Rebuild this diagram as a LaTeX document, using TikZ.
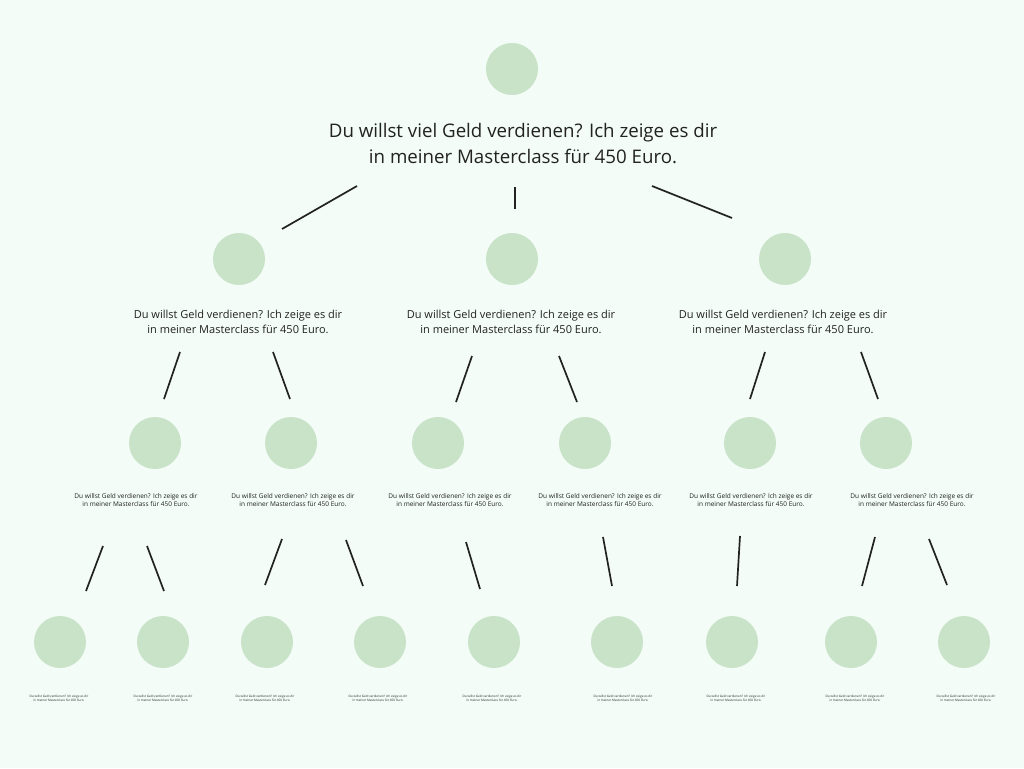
\documentclass[tikz,border=0pt]{standalone}
\usepackage{fontspec}
\setmainfont{Open Sans}
\usepackage{xcolor}
\usepackage{tikz}

\definecolor{paper}{RGB}{243,252,247}
\definecolor{leaf}{RGB}{200,227,200}
\definecolor{ink}{RGB}{34,34,34}

\newcommand{\pitchbig}{Du willst viel Geld verdienen? Ich zeige es dir\\in meiner Masterclass für 450 Euro.}
\newcommand{\pitch}{Du willst Geld verdienen? Ich zeige es dir\\in meiner Masterclass für 450 Euro.}

\begin{document}
\begin{tikzpicture}[x=1pt, y=-1pt,
     dot/.style={circle, fill=leaf, inner sep=0pt, minimum size=52pt},
     txt/.style={align=center, text=ink, inner sep=0pt},
     link/.style={draw=ink, line width=1.7pt}]
     \fill[paper] (0,0) rectangle (1024,768);
     \useasboundingbox (0,0) rectangle (1024,768);

     % top
     \node[dot] (R) at (512,69) {};
     \node[txt, font=\fontsize{18.7}{26}\selectfont] (Rt) at (523,144) {\pitchbig};

     % first row
     \node[dot] (A) at (239,259) {};
     \node[dot] (B) at (512,259) {};
     \node[dot] (C) at (785,259) {};
     \node[txt, font=\fontsize{11}{14.5}\selectfont] (At) at (238,322) {\pitch};
     \node[txt, font=\fontsize{11}{14.5}\selectfont] (Bt) at (511,322) {\pitch};
     \node[txt, font=\fontsize{11}{14.5}\selectfont] (Ct) at (783,322) {\pitch};

     % second row
     \node[dot] (A1) at (155,443) {};
     \node[dot] (A2) at (291,443) {};
     \node[dot] (B1) at (438,443) {};
     \node[dot] (B2) at (585,443) {};
     \node[dot] (C1) at (750,443) {};
     \node[dot] (C2) at (886,443) {};
     \node[txt, font=\fontsize{6.5}{8.5}\selectfont] (A1t) at (136,500) {\pitch};
     \node[txt, font=\fontsize{6.5}{8.5}\selectfont] (A2t) at (293,500) {\pitch};
     \node[txt, font=\fontsize{6.5}{8.5}\selectfont] (B1t) at (450,500) {\pitch};
     \node[txt, font=\fontsize{6.5}{8.5}\selectfont] (B2t) at (600,500) {\pitch};
     \node[txt, font=\fontsize{6.5}{8.5}\selectfont] (C1t) at (751,500) {\pitch};
     \node[txt, font=\fontsize{6.5}{8.5}\selectfont] (C2t) at (912,500) {\pitch};

     % third row
     \node[dot] (D1) at (60,642) {};
     \node[dot] (D2) at (163,642) {};
     \node[dot] (D3) at (267,642) {};
     \node[dot] (D4) at (380,642) {};
     \node[dot] (D5) at (494,642) {};
     \node[dot] (D6) at (617,642) {};
     \node[dot] (D7) at (732,642) {};
     \node[dot] (D8) at (851,642) {};
     \node[dot] (D9) at (964,642) {};
     \node[txt, font=\fontsize{3.1}{4.2}\selectfont] (D1t) at (59,698) {\pitch};
     \node[txt, font=\fontsize{3.1}{4.2}\selectfont] (D2t) at (163,698) {\pitch};
     \node[txt, font=\fontsize{3.1}{4.2}\selectfont] (D3t) at (265,698) {\pitch};
     \node[txt, font=\fontsize{3.1}{4.2}\selectfont] (D4t) at (378,698) {\pitch};
     \node[txt, font=\fontsize{3.1}{4.2}\selectfont] (D5t) at (492,698) {\pitch};
     \node[txt, font=\fontsize{3.1}{4.2}\selectfont] (D6t) at (623,698) {\pitch};
     \node[txt, font=\fontsize{3.1}{4.2}\selectfont] (D7t) at (736,698) {\pitch};
     \node[txt, font=\fontsize{3.1}{4.2}\selectfont] (D8t) at (855,698) {\pitch};
     \node[txt, font=\fontsize{3.1}{4.2}\selectfont] (D9t) at (966,698) {\pitch};

     % line ends
     \coordinate (RA0) at (357,186);  \coordinate (RA1) at (282,229);
     \coordinate (RB0) at (515,187);  \coordinate (RB1) at (515,209);
     \coordinate (RC0) at (652,186);  \coordinate (RC1) at (732,218);

     \coordinate (AA10) at (180,352); \coordinate (AA11) at (164,399);
     \coordinate (AA20) at (273,352); \coordinate (AA21) at (290,399);
     \coordinate (BB10) at (472,356); \coordinate (BB11) at (456,402);
     \coordinate (BB20) at (559,356); \coordinate (BB21) at (577,402);
     \coordinate (CC10) at (765,352); \coordinate (CC11) at (750,399);
     \coordinate (CC20) at (861,352); \coordinate (CC21) at (878,399);

     \coordinate (E10) at (103,546);  \coordinate (E11) at (86,591);
     \coordinate (E20) at (147,546);  \coordinate (E21) at (164,591);
     \coordinate (E30) at (282,539);  \coordinate (E31) at (265,585);
     \coordinate (E40) at (346,540);  \coordinate (E41) at (363,586);
     \coordinate (E50) at (466,542);  \coordinate (E51) at (480,589);
     \coordinate (E60) at (603,537);  \coordinate (E61) at (612,586);
     \coordinate (E70) at (740,536);  \coordinate (E71) at (737,586);
     \coordinate (E80) at (875,537);  \coordinate (E81) at (862,586);
     \coordinate (E90) at (929,539);  \coordinate (E91) at (947,585);

     \draw[link] (RA0) -- (RA1);
     \draw[link] (RB0) -- (RB1);
     \draw[link] (RC0) -- (RC1);
     \draw[link] (AA10) -- (AA11);
     \draw[link] (AA20) -- (AA21);
     \draw[link] (BB10) -- (BB11);
     \draw[link] (BB20) -- (BB21);
     \draw[link] (CC10) -- (CC11);
     \draw[link] (CC20) -- (CC21);
     \draw[link] (E10) -- (E11);
     \draw[link] (E20) -- (E21);
     \draw[link] (E30) -- (E31);
     \draw[link] (E40) -- (E41);
     \draw[link] (E50) -- (E51);
     \draw[link] (E60) -- (E61);
     \draw[link] (E70) -- (E71);
     \draw[link] (E80) -- (E81);
     \draw[link] (E90) -- (E91);
     \end{tikzpicture}
\end{document}
